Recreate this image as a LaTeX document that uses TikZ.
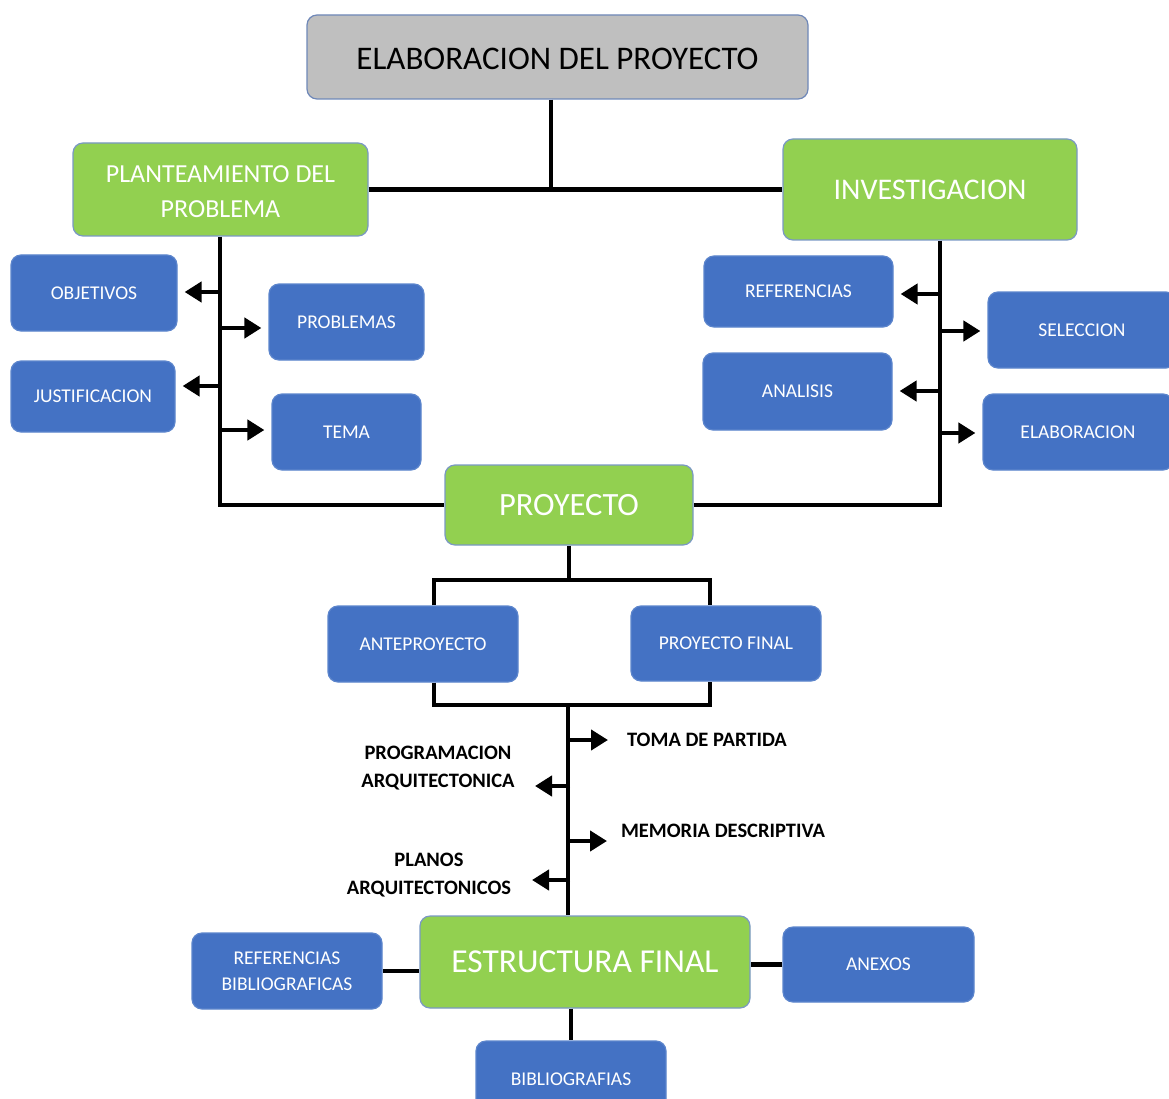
\documentclass[tikz,border=0pt]{standalone}
\usepackage{fontspec}
\setmainfont{Carlito}
\usetikzlibrary{arrows.meta}
\definecolor{boxblue}{HTML}{4472C4}
\definecolor{blueedge}{HTML}{5C85CC}
\definecolor{boxgreen}{HTML}{92D050}
\definecolor{greenedge}{HTML}{7A98C4}
\definecolor{boxgray}{HTML}{BFBFBF}
\definecolor{grayedge}{HTML}{6F88B8}

\begin{document}
\begin{tikzpicture}[x=1pt,y=-1pt,
  base/.style={rounded corners=10pt, line width=1.2pt, inner sep=0pt, align=center, text=white},
  bluebox/.style={base, fill=boxblue, draw=blueedge, font=\fontsize{19.5}{26}\selectfont},
  greenbox/.style={base, fill=boxgreen, draw=greenedge},
  link/.style={line width=4.8pt},
  arrow/.style={link, -{Triangle[length=17pt,width=20pt]}},
  boxarrow/.style={arrow, shorten >=7pt},
  lbl/.style={font=\bfseries\fontsize{20.5}{28}\selectfont, align=center, inner sep=0pt}
]
\useasboundingbox (0,0) rectangle (1169,1099);
\clip (0,0) rectangle (1169,1099);

% ---- boxes ----
\node[base, fill=boxgray, draw=grayedge, text=black, minimum width=501pt, minimum height=84pt,
      font=\fontsize{33}{38}\selectfont, text height=25.3pt, text depth=0pt]
      (title) at (557.5,57) {ELABORACION DEL PROYECTO};

\node[greenbox, minimum width=295pt, minimum height=93pt, font=\fontsize{26}{35}\selectfont]
      (plan) at (220.5,189.5)
      {\raisebox{-3.5pt}[\height][\depth]{\begin{tabular}{@{}c@{}}PLANTEAMIENTO DEL\\PROBLEMA\end{tabular}}};
\node[greenbox, minimum width=294pt, minimum height=101pt, font=\fontsize{30}{36}\selectfont]
      (inv) at (930,189.5) {INVESTIGACION};

\node[bluebox, minimum width=166pt, minimum height=76pt] (obj)  at (94,293)    {OBJETIVOS};
\node[bluebox, minimum width=155pt, minimum height=76pt] (prob) at (346.5,322)  {PROBLEMAS};
\node[bluebox, minimum width=164pt, minimum height=71pt] (just) at (93,396.5)   {JUSTIFICACION};
\node[bluebox, minimum width=149pt, minimum height=76pt] (tema) at (346.5,432)  {TEMA};

\node[bluebox, minimum width=189pt, minimum height=71pt] (ref)  at (798.5,291.5) {REFERENCIAS};
\node[bluebox, minimum width=189pt, minimum height=77pt] (anal) at (797.5,391.5) {ANALISIS};
\node[bluebox, minimum width=188pt, minimum height=76pt] (sel)  at (1082,330)    {SELECCION};
\node[bluebox, minimum width=190pt, minimum height=76pt] (elab) at (1078,432)    {ELABORACION};

\node[greenbox, minimum width=248pt, minimum height=80pt, font=\fontsize{32.5}{38}\selectfont]
      (proy) at (569,505) {PROYECTO};

\node[bluebox, minimum width=190pt, minimum height=76pt] (ante) at (423,644)   {ANTEPROYECTO};
\node[bluebox, minimum width=190pt, minimum height=75pt] (pfin) at (726,643.5) {PROYECTO FINAL};

\node[greenbox, minimum width=330pt, minimum height=92pt, font=\fontsize{33.5}{40}\selectfont]
      (estr) at (585,962) {ESTRUCTURA FINAL};

\node[bluebox, minimum width=190pt, minimum height=76pt] (refb) at (287,971)   {REFERENCIAS\\BIBLIOGRAFICAS};
\node[bluebox, minimum width=191pt, minimum height=75pt] (anex) at (878.5,964.5) {ANEXOS};
\node[bluebox, minimum width=190pt, minimum height=76pt] (bibl) at (571,1079)  {BIBLIOGRAFIAS};

% ---- labels along the lower spine ----
\node[lbl] (toma)   at (707,740) {TOMA DE PARTIDA};
\node[lbl] (progr)  at (438,768) {PROGRAMACION\\ARQUITECTONICA};
\node[lbl] (memo)   at (723,831) {MEMORIA DESCRIPTIVA};
\node[lbl] (planos) at (429,875) {PLANOS\\ARQUITECTONICOS};

% ---- top junction ----
\coordinate (j0) at (551,189);
\draw[link] (title.south -| j0) -- (j0);
\draw[link] (plan.east) -- (inv.west);

% ---- left spine ----
\coordinate (ls) at (220,505);
\draw[link] (plan.south -| ls) -- (ls) -- (proy.west);
\coordinate (la) at (220,292);
\coordinate (lb) at (220,328);
\coordinate (lc) at (220,386);
\coordinate (ld) at (220,430);
\draw[boxarrow] (la) -- (la -| obj.east);
\draw[boxarrow] (lb) -- (lb -| prob.west);
\draw[boxarrow] (lc) -- (lc -| just.east);
\draw[boxarrow] (ld) -- (ld -| tema.west);

% ---- right spine ----
\coordinate (rs) at (940,505);
\draw[link] (inv.south -| rs) -- (rs) -- (proy.east);
\coordinate (ra) at (940,294);
\coordinate (rb) at (940,331);
\coordinate (rc) at (940,391);
\coordinate (rd) at (940,433);
\draw[boxarrow] (ra) -- (ra -| ref.east);
\draw[boxarrow] (rb) -- (rb -| sel.west);
\draw[boxarrow] (rc) -- (rc -| anal.east);
\draw[boxarrow] (rd) -- (rd -| elab.west);

% ---- fork to ANTEPROYECTO / PROYECTO FINAL ----
\coordinate (fl) at (434,580);
\coordinate (fr) at (710,580);
\draw[link] (proy.south) -- (proy.south |- fl);
\draw[link] (ante.north -| fl) -- (fl) -- (fr) -- (pfin.north -| fr);

\coordinate (jl) at (434,705);
\coordinate (jr) at (710,705);
\coordinate (jm) at (568,705);
\draw[link] (ante.south -| jl) -- (jl) -- (jr) -- (pfin.south -| jr);
\draw[link] (jm) -- (estr.north -| jm);

% ---- branches of the lower spine ----
\coordinate (ma) at (568,740);  \coordinate (ta) at (608,740);
\coordinate (mb) at (570,786);  \coordinate (tb) at (535,786);
\coordinate (mc) at (568,841);  \coordinate (tc) at (607,841);
\coordinate (md) at (570,880);  \coordinate (td) at (532,880);
\draw[arrow] (ma) -- (ta);
\draw[arrow] (mb) -- (tb);
\draw[arrow] (mc) -- (tc);
\draw[arrow] (md) -- (td);

% ---- ESTRUCTURA FINAL links ----
\draw[link] (refb.east) -- (refb.east -| estr.west);
\draw[link] (anex.west) -- (anex.west -| estr.east);
\draw[link] (estr.south -| bibl.north) -- (bibl.north);
\end{tikzpicture}
\end{document}
